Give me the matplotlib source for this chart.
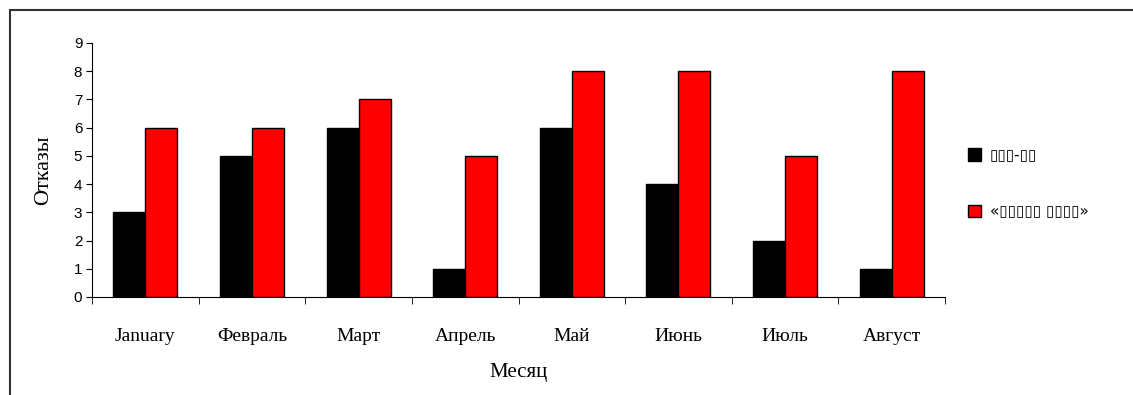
import matplotlib
matplotlib.use("Agg")
import matplotlib.pyplot as plt
from matplotlib.patches import Rectangle
import numpy as np

months = ["January", "Февраль", "Март", "Апрель", "Май", "Июнь", "Июль", "Август"]
series1_name = "▯▯▯-▯▯"
series2_name = "«▯▯▯▯▯ ▯▯▯▯»"
series1 = [3, 5, 6, 1, 6, 4, 2, 1]
series2 = [6, 6, 7, 5, 8, 8, 5, 8]
yticks = list(range(0, 10))

W, H = 1133, 395
fig = plt.figure(figsize=(W / 100, H / 100), dpi=100)

# outer frame
fig.add_artist(Rectangle((10 / W, -0.1), 1.2, 1 - 10 / H + 0.1, transform=fig.transFigure,
                         fill=False, edgecolor="#333333", linewidth=1.5))

ax = fig.add_axes([92 / W, 1 - 297 / H, (945 - 92) / W, (297 - 43) / H])
x = np.arange(len(months))
bw = 0.3
ax.bar(x - bw / 2, series1, width=bw, color="black", edgecolor="black", linewidth=1, label=series1_name)
ax.bar(x + bw / 2, series2, width=bw, color="#ff0000", edgecolor="black", linewidth=1, label=series2_name)

ax.set_xlim(-0.5, len(months) - 0.5)
ax.set_ylim(0, 9)
ax.set_yticks(yticks)
ax.set_yticklabels([str(v) for v in yticks], fontfamily="Liberation Sans", fontsize=11)
ax.set_xticks(x)
ax.set_xticklabels(months, fontfamily="Liberation Serif", fontsize=14)
ax.tick_params(axis="x", length=0, pad=22)
ax.set_xticks(np.arange(len(months) + 1) - 0.5, minor=True)
ax.tick_params(axis="x", which="minor", length=5, direction="out")
ax.tick_params(axis="y", length=4, direction="out", pad=3)
for s in ["top", "right"]:
    ax.spines[s].set_visible(False)

fig.text(44 / W, 1 - 170 / H, "Отказы", rotation=90, ha="center", va="center",
         fontfamily="Liberation Serif", fontsize=16)
fig.text(519 / W, 1 - 373 / H, "Месяц", ha="center", va="center",
         fontfamily="Liberation Serif", fontsize=15)

leg = ax.legend(loc="center left", bbox_to_anchor=(954 / W, 1 - 183.5 / H),
                bbox_transform=fig.transFigure, frameon=False,
                prop={"family": "DejaVu Sans", "size": 11}, handlelength=0.85, handleheight=0.85,
                labelspacing=2.7, handletextpad=0.6)

fig.savefig("out.png", dpi=100)
